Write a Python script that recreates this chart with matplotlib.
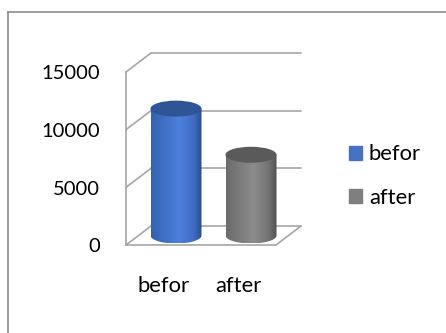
import numpy as np
import matplotlib
matplotlib.use("Agg")
import matplotlib.pyplot as plt
from matplotlib.colors import LinearSegmentedColormap
from matplotlib.patches import Ellipse, PathPatch, Patch
from matplotlib.path import Path
from matplotlib.lines import Line2D

# data
categories = ["befor", "after"]
values = [11000, 7000]
yticks = [0, 5000, 10000, 15000]

plt.rcParams["font.family"] = ["Lato", "DejaVu Sans"]

W, H = 446, 333
fig = plt.figure(figsize=(W / 100, H / 100), dpi=100)
ax = fig.add_axes([0, 0, 1, 1])
ax.axis("off")

# pixel layout of the front plot face -> data limits
x_front_left, y_front_zero, px_cat, px_per_val = 126, 245, 75, 173 / 15000
xlim = (-0.5 - x_front_left / px_cat, -0.5 + (W - x_front_left) / px_cat)
ylim = (-(H - y_front_zero) / px_per_val, y_front_zero / px_per_val)

DX = 25 / px_cat          # depth offset in category units
DY = 19 / px_per_val      # depth offset in value units
ymax = yticks[-1]
x0, x1 = -0.5, len(categories) - 0.5
wall = dict(color="#a6a6a6", lw=1.2, zorder=1, solid_capstyle="round")

# back wall gridlines + left wall diagonals
for v in yticks:
    ax.plot([x0 + DX, x1 + DX], [v + DY, v + DY], **wall)
    ax.plot([x0, x0 + DX], [v, v + DY], **wall)
ax.plot([x0, x0], [0, ymax], **wall)
# floor front edge + right edge
ax.plot([x0, x1, x1 + DX], [0, 0, DY], **wall)

# tick labels
for v in yticks:
    ax.text(x0 - 0.347, v - 150, str(v), ha="right", va="center", fontsize=14.5)
for i, c in enumerate(categories):
    ax.text(i, -3550, c, ha="center", va="center", fontsize=15.8)

# cylinders
body_cols = [
    ["#3560b0", "#4d80dc", "#3f6cc2", "#2a4c8c"],
    ["#6c6c6c", "#8c8c8c", "#727272", "#505050"],
]
top_cols = ["#2f5597", "#5a5a5a"]
r = 0.34
e = 8 / px_per_val
for i, v in enumerate(values):
    cx = i + DX / 2
    base = DY / 2
    top = v + DY / 2
    t = np.linspace(0, -np.pi, 60)
    pts = [(cx - r, base), (cx - r, top), (cx + r, top), (cx + r, base)]
    pts += list(zip(cx + r * np.cos(t), base + e * np.sin(t)))
    path = Path(pts + [pts[0]], closed=True)
    clip = PathPatch(path, transform=ax.transData, fc="none", ec="none")
    ax.add_patch(clip)
    cmap = LinearSegmentedColormap.from_list(
        "c%d" % i, list(zip([0, 0.55, 0.85, 1.0], body_cols[i])))
    grad = np.linspace(0, 1, 200).reshape(1, -1)
    im = ax.imshow(grad, cmap=cmap, extent=[cx - r, cx + r, base - e, top],
                   aspect="auto", zorder=3, interpolation="bilinear")
    im.set_clip_path(clip)
    ax.add_patch(Ellipse((cx, top), 2 * r, 2 * e, fc=top_cols[i], ec="none", zorder=4))

ax.set_xlim(*xlim)
ax.set_ylim(*ylim)

# legend
handles = [Patch(color="#4472c4"), Patch(color="#7f7f7f")]
fig.legend(handles, categories, loc="center left", bbox_to_anchor=(349 / W, 1 - 176 / H),
           frameon=False, fontsize=15.8, handlelength=0.6, handleheight=0.6,
           handletextpad=0.3, labelspacing=1.05, borderpad=0, borderaxespad=0)

# chart border (cut off at right and bottom)
bx, by = 7.5 / W, 1 - 11.5 / H
fig.add_artist(Line2D([bx, bx], [0, by], color="#8c8c8c", lw=1.2))
fig.add_artist(Line2D([bx, 1], [by, by], color="#8c8c8c", lw=1.2))

fig.savefig("out.png", dpi=100)
